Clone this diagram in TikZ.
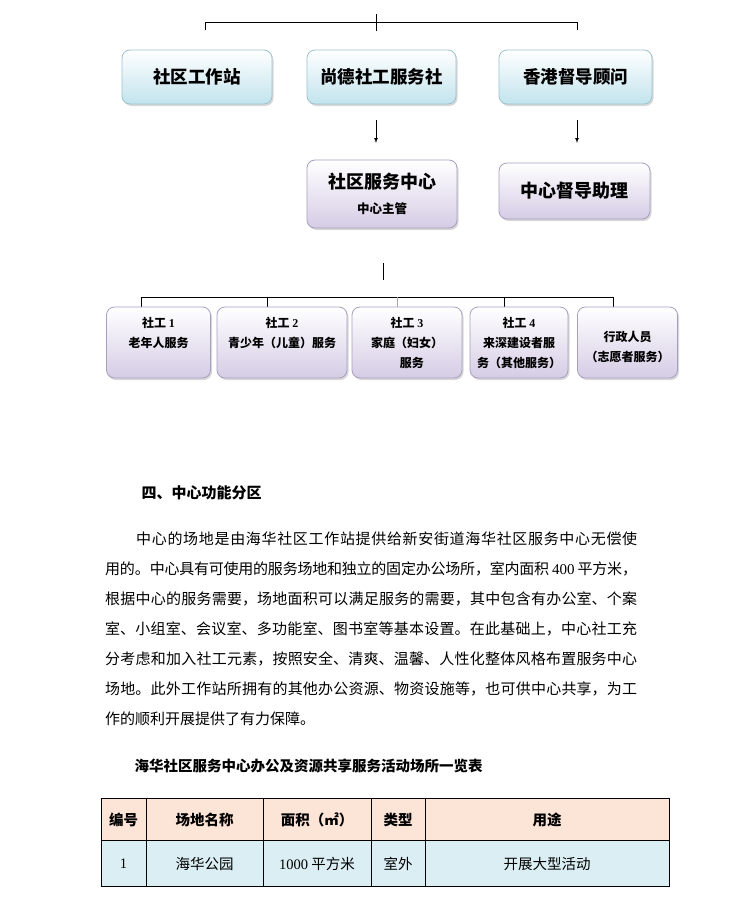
\documentclass[tikz,border=0pt]{standalone}
\usepackage{fontspec}
\setmainfont{Noto Sans CJK SC}
\newfontfamily\tms{Liberation Serif}
\usetikzlibrary{shadows}
\XeTeXlinebreaklocale "zh"
\XeTeXlinebreakskip=0pt plus 1.5pt minus 0.6pt

\definecolor{blueedge}{HTML}{9CC3CF}
\definecolor{bluefill}{HTML}{C2E3ED}
\definecolor{lilacedge}{HTML}{A89FBF}
\definecolor{lilacfill}{HTML}{D5CCE5}
\definecolor{headfill}{HTML}{FCE4D6}
\definecolor{rowfill}{HTML}{DAEEF3}

\tikzset{
  orgbox/.style={draw, rounded corners=8pt, line width=0.8pt, inner sep=2pt, align=center,
    drop shadow={shadow xshift=1.5pt, shadow yshift=-2pt, opacity=0.3}},
  bluebox/.style={orgbox, draw=blueedge, top color=white, bottom color=bluefill,
    minimum height=54pt, font=\fontsize{17.5}{20}\selectfont\bfseries},
  lilacbox/.style={orgbox, draw=lilacedge, top color=white, bottom color=lilacfill},
  wkbox/.style={lilacbox, minimum height=71pt, font=\fontsize{12}{20}\selectfont\bfseries},
  link/.style={line width=0.7pt},
  headcell/.style={font=\fontsize{14.5}{17}\selectfont\bfseries},
  bodycell/.style={font=\fontsize{14.5}{17}\selectfont},
}

\begin{document}
\begin{tikzpicture}[x=1pt,y=-1pt]
\fill[white] (0,0) rectangle (742,900);
\useasboundingbox (0,0) rectangle (742,900);

% organisation chart, top row
\node[bluebox, minimum width=150pt] (station) at (197,77) {社区工作站};
\node[bluebox, minimum width=149pt] (shangde) at (381.5,77) {尚德社工服务社};
\node[bluebox, minimum width=153pt] (hkadvisor) at (575.5,77) {香港督导顾问};

\coordinate (t0) at (376,14);
\coordinate (t1) at (376,31);
\coordinate (tl) at (205,30);
\coordinate (tr) at (577,30);
\draw[link] (t0) -- (t1);
\draw[link] (tl) -- ++(0,-8) -| (tr);

% arrows to second row
\coordinate (a1) at (376,120);
\coordinate (a2) at (376,143);
\coordinate (b1) at (577,120);
\coordinate (b2) at (577,143);
\draw[->,>=latex,link] (a1) -- (a2);
\draw[->,>=latex,link] (b1) -- (b2);

\node[lilacbox, minimum width=150pt, minimum height=68pt] (centre) at (382,194)
  {{\fontsize{18}{20}\selectfont\bfseries 社区服务中心}\\[11pt]{\fontsize{12.5}{14}\selectfont\bfseries 中心主管}};
\node[lilacbox, minimum width=151pt, minimum height=56pt, font=\fontsize{18}{20}\selectfont\bfseries]
  (assistant) at (574.5,191) {中心督导助理};

% staff row
\coordinate (m0) at (383,263);
\coordinate (m1) at (383,280);
\draw[link] (m0) -- (m1);
\coordinate (busl) at (141,297);
\coordinate (busr) at (613,297);
\draw[link] (busl) -- (busr);
\foreach \x in {141,267,504,613}
  \draw[link] (\x,297) -- (\x,307);
\draw[link,black!35] (397,297) -- (397,307);

\node[wkbox, minimum width=104pt] (sw1) at (158.5,342.5) {社工 {\tms 1}\\老年人服务\\\mbox{}};
\node[wkbox, minimum width=130pt] (sw2) at (282,342.5) {社工 {\tms 2}\\青少年（儿童）服务\\\mbox{}};
\node[wkbox, minimum width=110pt] (sw3) at (407,342.5) {社工 {\tms 3}\\家庭（妇女）\\\hspace*{0.8em}服务};
\node[wkbox, minimum width=98pt] (sw4) at (519,342.5) {社工 {\tms 4}\\来深建设者服\\务（其他服务）};
\node[wkbox, minimum width=100pt] (admin) at (627.5,342.5) {\mbox{}\\行政人员\\（志愿者服务）};

% section text
\node[anchor=west, font=\fontsize{15}{18}\selectfont\bfseries] (heading) at (138,493) {四、中心功能分区};

\node[anchor=north west, inner sep=0pt, text width=532pt, align=justify,
  font=\fontsize{15}{30}\selectfont] (para) at (105,532) {\tolerance=9999
\hspace*{31pt}中心的场地是由海华社区工作站提供给新安街道海华社区服务中心无偿使\linebreak
用的。中心具有可使用的服务场地和独立的固定办公场所，室内面积 {\tms 400} 平方米，\linebreak
根据中心的服务需要，场地面积可以满足服务的需要，其中包含有办公室、个案\linebreak
室、小组室、会议室、多功能室、图书室等基本设置。在此基础上，中心社工充\linebreak
分考虑和加入社工元素，按照安全、清爽、温馨、人性化整体风格布置服务中心\linebreak
场地。此外工作站所拥有的其他办公资源、物资设施等，也可供中心共享，为工\linebreak
作的顺利开展提供了有力保障。};

\node[anchor=west, font=\fontsize{14.5}{17}\selectfont\bfseries] (tabtitle) at (131,766)
  {海华社区服务中心办公及资源共享服务活动场所一览表};

% table
\fill[headfill] (101,798) rectangle (669,840);
\fill[rowfill] (101,840) rectangle (669,886);
\draw[line width=0.8pt] (101,798) rectangle (669,886);
\draw[line width=0.8pt] (101,840) -- (669,840);
\foreach \x in {146,263,371,425}
  \draw[line width=0.8pt] (\x,798) -- (\x,886);

\node[headcell] (h1) at (123.5,820) {编号};
\node[headcell] (h2) at (204.5,820) {场地名称};
\node[headcell] (h3) at (317,820) {面积（㎡）};
\node[headcell] (h4) at (398,820) {类型};
\node[headcell] (h5) at (547,820) {用途};

\node[bodycell] (r1) at (123.5,864) {\tms 1};
\node[bodycell] (r2) at (204.5,864) {海华公园};
\node[bodycell] (r3) at (317,864) {{\tms 1000} 平方米};
\node[bodycell] (r4) at (398,864) {室外};
\node[bodycell] (r5) at (547,864) {开展大型活动};
\end{tikzpicture}
\end{document}
